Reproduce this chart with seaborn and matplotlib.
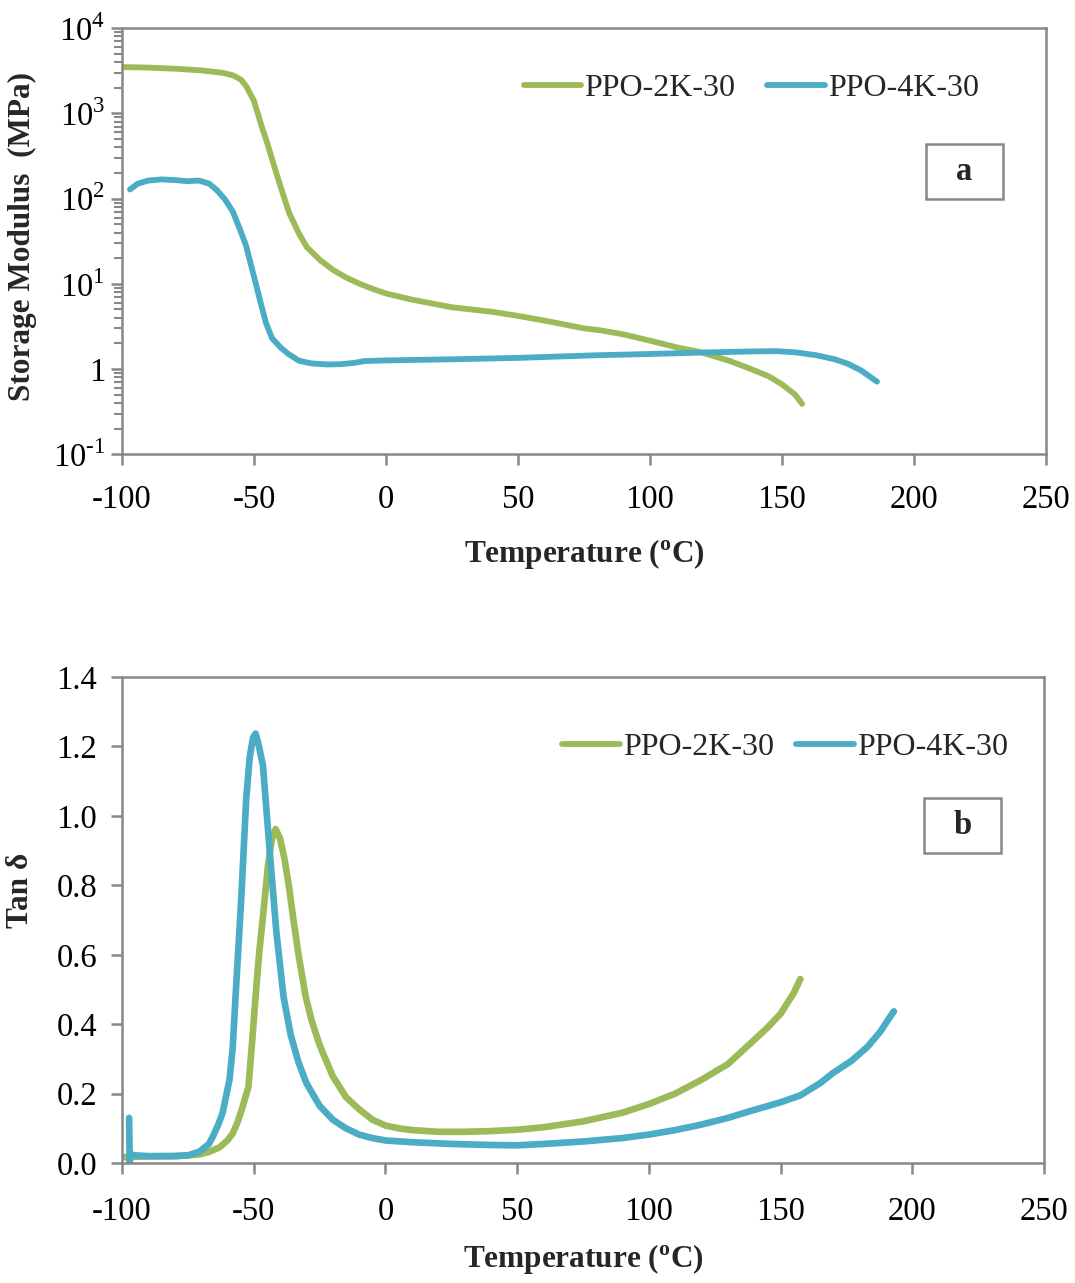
import numpy as np
import pandas as pd
import matplotlib
matplotlib.use("Agg")
import matplotlib.pyplot as plt
import seaborn as sns
from matplotlib.patches import Rectangle
from matplotlib.lines import Line2D
from matplotlib.ticker import FixedLocator, FixedFormatter, LogLocator, NullFormatter

# ---------------- data ----------------
series_names = ["PPO-2K-30", "PPO-4K-30"]

# (a) storage modulus, MPa
t_mod_2k = [-100, -90, -80, -70, -62, -58, -55, -53, -50, -47, -45, -43, -40, -36.7, -33, -30, -25,
            -20, -15, -10, -5, 0, 10, 25, 40, 50, 60, 75, 81, 90, 100, 110, 119, 130, 137.5, 145,
            150, 155, 157.6]
mod_2k = [3500, 3450, 3350, 3200, 3000, 2800, 2500, 2100, 1400, 690, 450, 280, 140, 68, 39, 27, 19,
          14.5, 11.8, 10.0, 8.7, 7.7, 6.5, 5.3, 4.7, 4.2, 3.7, 3.0, 2.85, 2.55, 2.15, 1.8, 1.58, 1.25,
          1.02, 0.82, 0.66, 0.5, 0.39]

t_mod_4k = [-97, -94, -90, -85, -80, -75, -71, -67, -64, -61, -58, -55.5, -53, -51, -49.3, -47.5,
            -45.5, -43.2, -40, -37, -33, -28, -22, -17, -12, -8, 0, 25, 50, 80, 100, 120, 140, 148,
            155, 163, 170, 175, 180, 186]
mod_4k = [128, 150, 163, 168, 165, 160, 163, 150, 125, 98, 70, 45, 28, 16, 10, 6, 3.5, 2.3, 1.8,
          1.5, 1.25, 1.16, 1.13, 1.14, 1.18, 1.24, 1.26, 1.3, 1.35, 1.45, 1.5, 1.56, 1.61, 1.62,
          1.57, 1.45, 1.3, 1.15, 0.96, 0.71]

# (b) tan delta
t_tan_2k = [-100, -90, -80, -75, -70.6, -67, -63, -60, -58, -56, -54.3, -52, -50.5, -49.3, -48,
            -46.5, -44.6, -43.2, -41.7, -40, -38.3, -36.5, -35.1, -33, -30.3, -28, -25, -20, -15,
            -10, -5, 0, 5, 10, 20, 30, 40, 50, 60, 75, 90, 100, 110, 120, 130, 138.6, 145, 150,
            155, 157.5]
tan_2k = [0.017, 0.019, 0.02, 0.022, 0.025, 0.032, 0.045, 0.065, 0.085, 0.12, 0.16, 0.22, 0.36,
          0.48, 0.6, 0.71, 0.856, 0.93, 0.962, 0.935, 0.875, 0.79, 0.71, 0.6, 0.48, 0.41, 0.34,
          0.25, 0.19, 0.155, 0.125, 0.108, 0.1, 0.095, 0.09, 0.09, 0.092, 0.096, 0.103, 0.12,
          0.145, 0.17, 0.2, 0.24, 0.285, 0.345, 0.39, 0.43, 0.49, 0.53]

t_tan_4k = [-97.3, -97.1, -96.8, -95, -90, -80, -75, -70.6, -67, -65.6, -63.5, -61.8, -59.2, -58,
            -56.9, -54.75, -52.85, -51.5, -50.3, -49.3, -48, -46.5, -44, -41.4, -38.7, -36, -33,
            -30, -25, -20, -15, -10, -5, 0, 10, 25, 40, 50, 60, 75, 90, 100, 110, 119.5, 130,
            138.6, 150, 157.5, 165, 170, 177, 183, 188, 191, 193]
tan_4k = [0.13, 0.0, 0.025, 0.022, 0.02, 0.02, 0.022, 0.033, 0.055, 0.075, 0.11, 0.145, 0.24, 0.33,
          0.48, 0.76, 1.05, 1.17, 1.225, 1.237, 1.2, 1.145, 0.904, 0.665, 0.48, 0.37, 0.29, 0.23,
          0.165, 0.125, 0.1, 0.082, 0.072, 0.065, 0.06, 0.055, 0.052, 0.051, 0.055, 0.062, 0.072,
          0.082, 0.095, 0.11, 0.13, 0.15, 0.175, 0.195, 0.23, 0.26, 0.295, 0.335, 0.38, 0.415,
          0.437]

x_ticks = [-100, -50, 0, 50, 100, 150, 200, 250]
x_tick_labels = ["-100", "-50", "0", "50", "100", "150", "200", "250"]
mod_ticks = [0.1, 1, 10, 100, 1000, 10000]
mod_tick_labels = [r"10$^{\text{-1}}$", "1", r"10$^{\mathregular{1}}$", r"10$^{\mathregular{2}}$",
                   r"10$^{\mathregular{3}}$", r"10$^{\mathregular{4}}$"]
tan_ticks = [0.0, 0.2, 0.4, 0.6, 0.8, 1.0, 1.2, 1.4]
tan_tick_labels = ["0.0", "0.2", "0.4", "0.6", "0.8", "1.0", "1.2", "1.4"]

colors = {"PPO-2K-30": "#9BBB59", "PPO-4K-30": "#4BACC6"}

df_mod = pd.concat([
    pd.DataFrame({"T": t_mod_2k, "v": mod_2k, "s": series_names[0]}),
    pd.DataFrame({"T": t_mod_4k, "v": mod_4k, "s": series_names[1]}),
])
df_tan = pd.concat([
    pd.DataFrame({"T": t_tan_2k, "v": tan_2k, "s": series_names[0]}),
    pd.DataFrame({"T": t_tan_4k, "v": tan_4k, "s": series_names[1]}),
])

# ---------------- style ----------------
sns.set_style("white")
plt.rcParams["font.family"] = ["Liberation Serif", "DejaVu Serif"]
plt.rcParams["mathtext.fontset"] = "custom"
plt.rcParams["mathtext.rm"] = "Liberation Serif"
plt.rcParams["mathtext.bf"] = "Liberation Serif:bold"

GRAY = "#878787"
FS = 23.5
LFS = 22.5
LEGFS = 23

fig = plt.figure(figsize=(10.75, 12.83), dpi=100)
ax1 = fig.add_axes([0.1135, 0.646, 0.8595, 0.332])
ax2 = fig.add_axes([0.1135, 0.0935, 0.8577, 0.3788])

sns.lineplot(data=df_mod, x="T", y="v", hue="s", palette=colors, estimator=None,
             linewidth=4.2, ax=ax1, legend=False, solid_capstyle="round")
sns.lineplot(data=df_tan, x="T", y="v", hue="s", palette=colors, estimator=None,
             linewidth=4.8, ax=ax2, legend=False, solid_capstyle="round")

def style_axis(ax):
    for sp in ax.spines.values():
        sp.set_color(GRAY)
        sp.set_linewidth(1.8)
        sp.set_visible(True)
    ax.tick_params(axis="both", which="both", direction="out", color=GRAY, width=1.8,
                   labelsize=FS, labelcolor="black", bottom=True, left=True, top=False, right=False)
    ax.tick_params(axis="both", which="major", length=8)
    ax.set_xlim(-100, 250)
    ax.set_xticks(x_ticks)
    ax.set_xticklabels(x_tick_labels)

# top axes
ax1.set_yscale("log")
ax1.set_ylim(0.1, 10000)
style_axis(ax1)
ax1.tick_params(axis="x", pad=14)
ax1.yaxis.set_major_locator(FixedLocator(mod_ticks))
ax1.yaxis.set_major_formatter(FixedFormatter(mod_tick_labels))
ax1.yaxis.set_minor_locator(LogLocator(base=10, subs=np.arange(2, 10)))
ax1.yaxis.set_minor_formatter(NullFormatter())
ax1.tick_params(axis="y", which="minor", length=6, width=1.5)
ax1.tick_params(axis="y", which="major", pad=4)
ax1.set_xlabel(r"Temperature ($^{\mathbf{o}}$C)", fontsize=LFS, fontweight="bold", labelpad=16)
ax1.set_ylabel("Storage Modulus  (MPa)", fontsize=LFS, fontweight="bold")
ax1.yaxis.set_label_coords(-0.092, 0.51)

# bottom axes
ax2.set_ylim(0, 1.4)
style_axis(ax2)
ax2.tick_params(axis="x", pad=16)
ax2.set_yticks(tan_ticks)
ax2.set_yticklabels(tan_tick_labels)
ax2.tick_params(axis="y", which="major", pad=10)
ax2.set_xlabel(r"Temperature ($^{\mathbf{o}}$C)", fontsize=LFS, fontweight="bold", labelpad=11)
ax2.set_ylabel("Tan δ", fontsize=LFS, fontweight="bold")
ax2.yaxis.set_label_coords(-0.094, 0.562)

# legends
handles = [Line2D([], [], color=colors[n], linewidth=4.2, solid_capstyle="round") for n in series_names]
ax1.legend(handles, series_names, loc="center", bbox_to_anchor=(0.681, 0.859), ncol=2,
           frameon=False, fontsize=LEGFS, handlelength=1.8, handletextpad=0.1, columnspacing=1.0,
           borderpad=0)
ax2.legend(handles, series_names, loc="center", bbox_to_anchor=(0.719, 0.856), ncol=2,
           frameon=False, fontsize=LEGFS, handlelength=1.8, handletextpad=0.1, columnspacing=0.7,
           borderpad=0)

# panel boxes
ax1.add_patch(Rectangle((0.870, 0.5986), 0.0833, 0.129, transform=ax1.transAxes, fill=False,
                        edgecolor=GRAY, linewidth=1.8))
ax1.text(0.9117, 0.663, "a", transform=ax1.transAxes, ha="center", va="center",
         fontsize=FS, fontweight="bold")
ax2.add_patch(Rectangle((0.870, 0.638), 0.0835, 0.113, transform=ax2.transAxes, fill=False,
                        edgecolor=GRAY, linewidth=1.8))
ax2.text(0.9116, 0.694, "b", transform=ax2.transAxes, ha="center", va="center",
         fontsize=FS, fontweight="bold")

fig.savefig("out.png", dpi=100)
